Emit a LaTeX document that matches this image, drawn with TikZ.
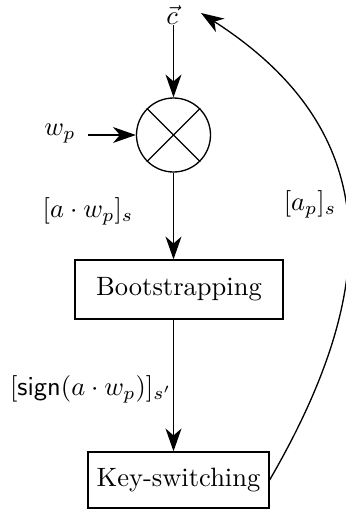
\documentclass[tikz,border=0pt]{standalone}
\usetikzlibrary{arrows.meta}
\begin{document}
\begin{tikzpicture}[x=0.377pt,y=-0.377pt,line width=0.5pt,
  arr/.style={-{Stealth[length=8.6pt,width=6pt,inset=2.6pt]}},
  blockbox/.style={draw,rectangle,inner sep=0pt,anchor=center},
  mult/.style={draw,circle,minimum size=27.9pt,inner sep=0pt},
  lbl/.style={inner sep=0pt,anchor=center}]
\useasboundingbox (0,0) rectangle (346,513);
\node[lbl] (c) at (172,15) {$\vec{c}$};
\node[mult] (m) at (173.5,135) {};
\draw (m.north west) -- (m.south east);
\draw (m.north east) -- (m.south west);
\node[lbl] (wp) at (60,134) {$w_p$};
\node[blockbox,minimum width=78.4pt,minimum height=22.2pt] (boot) at (179,289.5) {Bootstrapping};
\node[blockbox,minimum width=68.2pt,minimum height=21.1pt] (ks) at (178.5,480) {Key-switching};
\node[lbl] (l1) at (88,211) {$[a\cdot w_p]_s$};
\node[lbl] (l2) at (91,389) {$[\mathsf{sign}(a\cdot w_p)]_{s'}$};
\node[lbl] (l3) at (310,204) {$[a_p]_s$};
\coordinate (ctip) at (201,13);
\path (wp.east |- m.west) ++(12,0) coordinate (wps);
\path (m.north) ++(0,-72) coordinate (cs);
\draw[arr] (cs) -- (m.north);
\draw[arr] (wps) -- (m.west);
\draw[arr] (m.south) -- (m.south |- boot.north);
\draw[arr] (m.south |- boot.south) -- (m.south |- ks.north);
\draw[arr] (ks.east) .. controls (380,290) and (388,133) .. (ctip);
\end{tikzpicture}
\end{document}
